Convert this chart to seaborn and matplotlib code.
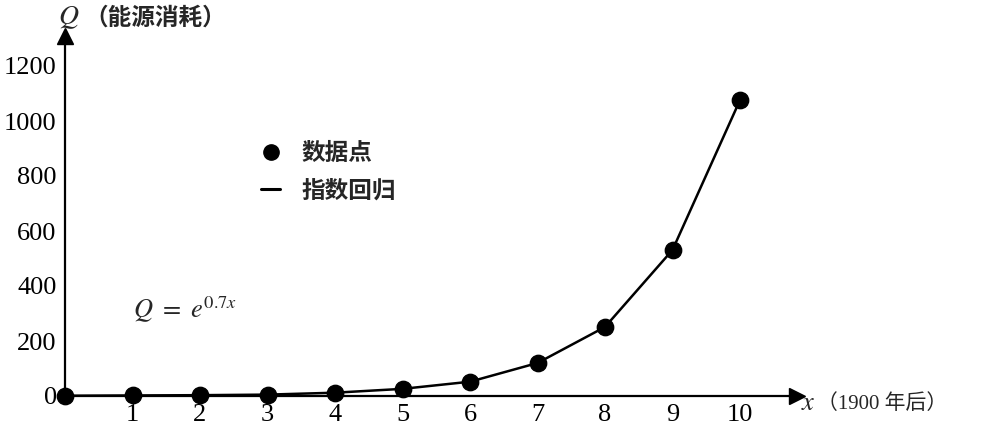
import matplotlib
matplotlib.use("Agg")
import matplotlib.pyplot as plt
import seaborn as sns
import pandas as pd
from matplotlib.lines import Line2D

# ---- data ----
years = [0, 1, 2, 3, 4, 5, 6, 7, 8, 9, 10]
energy = [1, 2, 3, 5, 12, 26, 52, 120, 251, 531, 1076]
x_ticks = [1, 2, 3, 4, 5, 6, 7, 8, 9, 10]
y_ticks = [0, 200, 400, 600, 800, 1000, 1200]
legend_labels = ["数据点", "指数回归"]
y_title = "（能源消耗）"
x_title = "（1900 年后）"

df = pd.DataFrame({"x": years, "Q": energy})

sns.set_theme(style="white")
plt.rcParams["font.family"] = ["Liberation Serif", "Noto Sans CJK SC", "DejaVu Sans"]

W, H = 985, 429
fig = plt.figure(figsize=(W / 100, H / 100), dpi=100)
# axes placed so that x=0 -> 65 px, 1 unit = 67.5 px; y=0 -> 396 px, 1 unit = 0.275 px
xmax, ymax = 10.85, 1310
left = 65 / W
width = xmax * 67.5 / W
bottom = (H - 396) / H
height = ymax * 0.275 / H
ax = fig.add_axes([left, bottom, width, height])

sns.lineplot(data=df, x="x", y="Q", ax=ax, color="black", linewidth=1.8,
             clip_on=False, zorder=3)
sns.scatterplot(data=df, x="x", y="Q", ax=ax, color="black", s=140,
                edgecolor="black", clip_on=False, zorder=4)

ax.set_xlim(0, xmax)
ax.set_ylim(0, ymax)
ax.set_xticks(x_ticks)
ax.set_xticklabels([str(t) for t in x_ticks])
ax.set_yticks(y_ticks)
ax.set_yticklabels([str(t) for t in y_ticks])
ax.tick_params(axis="both", direction="in", length=9, width=1.6, colors="black",
               labelsize=19, pad=6)
ax.tick_params(axis="x", pad=6)
for lab in ax.get_xticklabels() + ax.get_yticklabels():
    lab.set_family("Liberation Serif")
ax.set_xlabel("")
ax.set_ylabel("")
sns.despine(ax=ax, top=True, right=True)
for s in ["left", "bottom"]:
    ax.spines[s].set_color("black")
    ax.spines[s].set_linewidth(1.6)
ax.grid(False)

# axis arrowheads
ax.plot(1, 0, ">", color="black", markersize=11, transform=ax.get_yaxis_transform(),
        clip_on=False)
ax.plot(0, 1, "^", color="black", markersize=11, transform=ax.get_xaxis_transform(),
        clip_on=False)

# legend
handles = [
    Line2D([], [], marker="o", linestyle="none", color="black", markersize=11),
    Line2D([], [], color="black", linewidth=2.2),
]
leg = ax.legend(handles, legend_labels, loc="upper left",
                bbox_to_anchor=((240 - 65) / (xmax * 67.5), (396 - 120) / (ymax * 0.275)),
                frameon=False, handlelength=0.8, handletextpad=0.9, labelspacing=0.55,
                prop={"family": "Noto Sans CJK SC", "weight": "bold", "size": 17})

# equation annotation
fig.text(133 / W, 1 - 310 / H, r"$Q\ =\ e^{0.7x}$", fontsize=19,
         family="Liberation Serif", va="center", ha="left",
         math_fontfamily="stix")

# axis titles
fig.text(58 / W, 1 - 18 / H, r"$Q$", fontsize=20, va="center", ha="left",
         math_fontfamily="stix")
fig.text(84 / W, 1 - 18 / H, y_title, fontsize=17, va="center", ha="left",
         family=["Noto Sans CJK SC"], weight="bold")
fig.text(801 / W, 1 - 404 / H, r"$x$", fontsize=19, va="center", ha="left",
         math_fontfamily="stix")
fig.text(817 / W, 1 - 404 / H, x_title, fontsize=15, va="center", ha="left",
         family=["Liberation Serif", "Noto Sans CJK SC"])

fig.savefig("out.png", dpi=100, facecolor="white")
